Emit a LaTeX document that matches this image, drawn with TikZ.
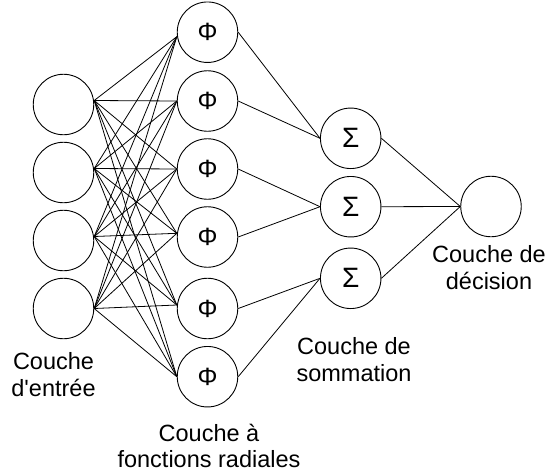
\documentclass[tikz,border=0pt]{standalone}
\usepackage{fontspec}
\setmainfont{Liberation Sans}[Ligatures=TeXOff]
\begin{document}
\begin{tikzpicture}[x=1pt,y=-1pt,
  neuron/.style={draw=black,circle,line width=0.9pt,minimum size=60.5pt,inner sep=0pt,font=\fontsize{25}{28}\selectfont},
  sumn/.style={neuron,font=\fontsize{28}{30}\selectfont},
  lab/.style={align=center,font=\fontsize{23.5}{26.7}\selectfont,inner sep=0pt},
  conn/.style={draw=black,line width=0.8pt}]
\useasboundingbox (0,0) rectangle (547,475);
% input layer
\node[neuron] (in1) at (63.5,104.5) {};
\node[neuron] (in2) at (63.5,172.5) {};
\node[neuron] (in3) at (63.5,240.5) {};
\node[neuron] (in4) at (63.5,308.5) {};
% radial layer
\node[neuron] (ph1) at (207.5,32.2) {Φ};
\node[neuron] (ph2) at (207.5,101) {Φ};
\node[neuron] (ph3) at (207.5,169) {Φ};
\node[neuron] (ph4) at (207.5,237) {Φ};
\node[neuron] (ph5) at (207.5,308.5) {Φ};
\node[neuron] (ph6) at (207.5,376.7) {Φ};
% summation layer
\node[sumn] (s1) at (350.7,138.3) {Σ};
\node[sumn] (s2) at (350.7,206.7) {Σ};
\node[sumn] (s3) at (350.7,278.3) {Σ};
% decision
\node[neuron] (d) at (491,206.5) {};
% input -> radial
\foreach \i/\a in {1/4,2/4,3/4,4/0}{
  \foreach \j/\b in {1/-4.5,2/0,3/0,4/3.7,5/3.5,6/0}{
    \draw[conn] ([yshift=\a pt]in\i.east) -- ([yshift=\b pt]ph\j.west);
  }
}
% radial -> summation
\draw[conn] (ph1.east) -- (s1.west);
\draw[conn] (ph2.east) -- (s1.west);
\draw[conn] (ph3.east) -- (s2.west);
\draw[conn] (ph4.east) -- (s2.west);
\draw[conn] (ph5.east) -- (s3.west);
\draw[conn] (ph6.east) -- (s3.west);
% summation -> decision
\draw[conn] (s1.east) -- (d.west);
\draw[conn] (s2.east) -- (d.west);
\draw[conn] (s3.east) -- (d.west);
% labels (base anchor = baseline of last line)
\node[lab,anchor=base] (l1) at (53.5,396) {Couche\\d'entrée};
\node[lab,anchor=base] (l2) at (209,467.7) {Couche à\\fonctions radiales};
\node[lab,anchor=base] (l3) at (354,381) {Couche de\\sommation};
\node[lab,anchor=base] (l4) at (489,289) {Couche de\\décision};
\end{tikzpicture}
\end{document}
